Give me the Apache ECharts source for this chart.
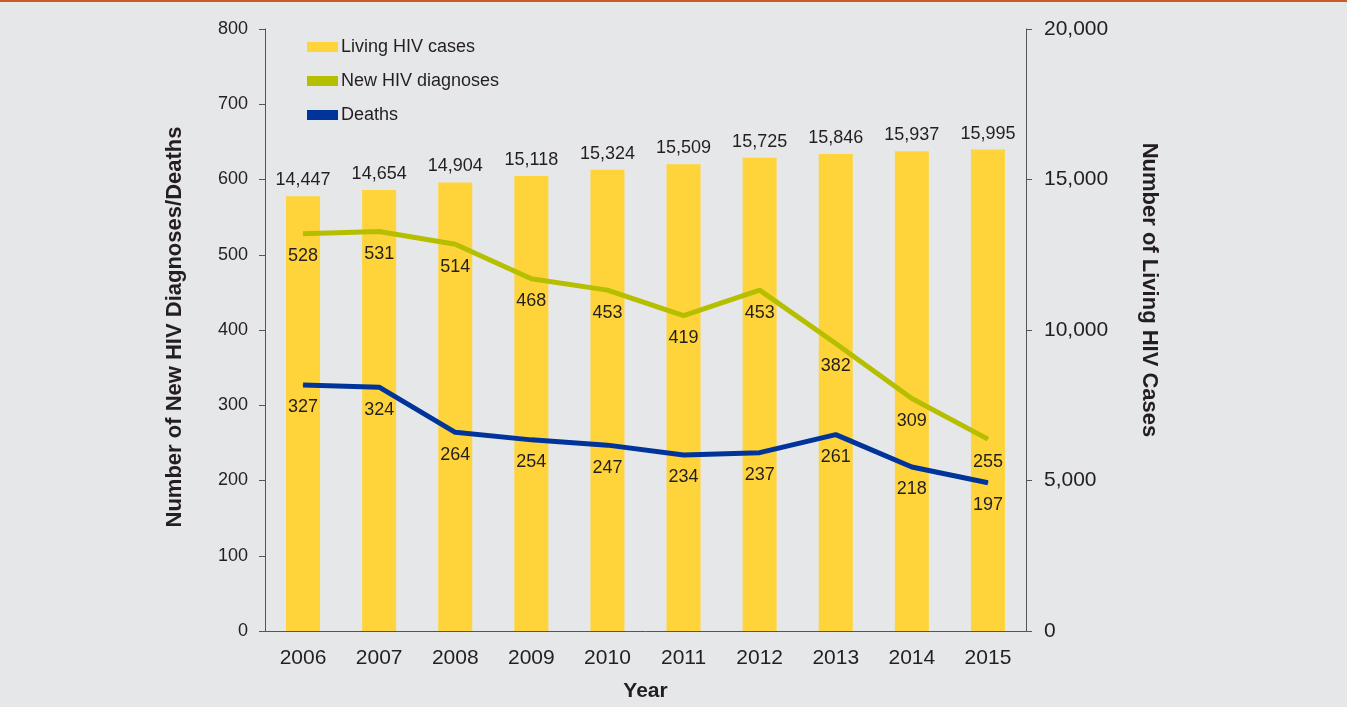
<!DOCTYPE html>
<html>
<head>
<meta charset="utf-8">
<script src="https://cdn.jsdelivr.net/npm/echarts@6/dist/echarts.min.js"></script>
<style>
  html, body { margin: 0; padding: 0; background: #e6e7e8; }
  #chart { width: 1347px; height: 705px; border-top: 2px solid #c95b2b; }
</style>
</head>
<body>
<div id="chart"></div>
<script>
// data
var years = ['2006', '2007', '2008', '2009', '2010', '2011', '2012', '2013', '2014', '2015'];
var livingCases = [14447, 14654, 14904, 15118, 15324, 15509, 15725, 15846, 15937, 15995];
var newDiagnoses = [528, 531, 514, 468, 453, 419, 453, 382, 309, 255];
var deaths = [327, 324, 264, 254, 247, 234, 237, 261, 218, 197];

var textColor = '#231f20';
var axisColor = '#555555';
var fontName = 'Liberation Sans, Arial, sans-serif';

var myChart = echarts.init(document.getElementById('chart'));
myChart.setOption({
  backgroundColor: '#e6e7e8',
  textStyle: { fontFamily: fontName, color: textColor },
  animation: false,
  grid: { left: 265, right: 321, top: 27, bottom: 76, outerBoundsMode: 'none' },
  legend: {
    orient: 'vertical',
    left: 302,
    top: 31,
    itemWidth: 31,
    itemHeight: 10,
    itemGap: 16,
    textStyle: { fontSize: 18, color: textColor, fontFamily: fontName, padding: [0, 0, 0, -2] },
    data: [
      { name: 'Living HIV cases', icon: 'rect' },
      { name: 'New HIV diagnoses', icon: 'rect' },
      { name: 'Deaths', icon: 'rect' }
    ]
  },
  xAxis: {
    type: 'category',
    data: years,
    name: 'Year',
    nameLocation: 'middle',
    nameGap: 50,
    nameTextStyle: { fontSize: 21, fontWeight: 'bold', color: textColor },
    axisLine: { lineStyle: { color: axisColor } },
    axisTick: { length: 6, lineStyle: { color: axisColor } },
    axisLabel: { fontSize: 21, color: textColor, margin: 17 }
  },
  yAxis: [
    {
      type: 'value',
      min: 0, max: 800, interval: 100,
      name: 'Number of New HIV Diagnoses/Deaths',
      nameLocation: 'middle',
      nameGap: 79,
      nameTextStyle: { fontSize: 22, fontWeight: 'bold', color: textColor, padding: [0, 0, 0, 6] },
      axisLine: { show: true, lineStyle: { color: axisColor } },
      axisTick: { show: true, length: 6, lineStyle: { color: axisColor } },
      axisLabel: { fontSize: 18, color: textColor, margin: 17 },
      splitLine: { show: false }
    },
    {
      type: 'value',
      min: 0, max: 20000, interval: 5000,
      name: 'Number of Living HIV Cases',
      nameLocation: 'middle',
      nameGap: 112,
      nameRotate: -90,
      nameTextStyle: { fontSize: 22, fontWeight: 'bold', color: textColor, padding: [0, 80, 0, 0] },
      axisLine: { show: true, lineStyle: { color: axisColor } },
      axisTick: { show: true, length: 6, lineStyle: { color: axisColor } },
      axisLabel: {
        fontSize: 21, color: textColor, margin: 18,
        formatter: function (v) { return v.toLocaleString('en-US'); }
      },
      splitLine: { show: false }
    }
  ],
  series: [
    {
      name: 'Living HIV cases',
      type: 'bar',
      yAxisIndex: 1,
      barWidth: 34,
      itemStyle: { color: '#ffd43b' },
      label: {
        show: true, position: 'top', distance: 7,
        fontSize: 18, color: textColor,
        formatter: function (p) { return p.value.toLocaleString('en-US'); }
      },
      data: livingCases
    },
    {
      name: 'New HIV diagnoses',
      type: 'line',
      yAxisIndex: 0,
      symbol: 'circle',
      symbolSize: 1,
      lineStyle: { width: 5, color: '#b5bf00' },
      itemStyle: { color: '#b5bf00' },
      label: { show: true, position: 'bottom', distance: 13, fontSize: 18, color: textColor },
      data: newDiagnoses
    },
    {
      name: 'Deaths',
      type: 'line',
      yAxisIndex: 0,
      symbol: 'circle',
      symbolSize: 1,
      lineStyle: { width: 5, color: '#00349a' },
      itemStyle: { color: '#00349a' },
      label: { show: true, position: 'bottom', distance: 13, fontSize: 18, color: textColor },
      data: deaths
    }
  ]
});
</script>
</body>
</html>
